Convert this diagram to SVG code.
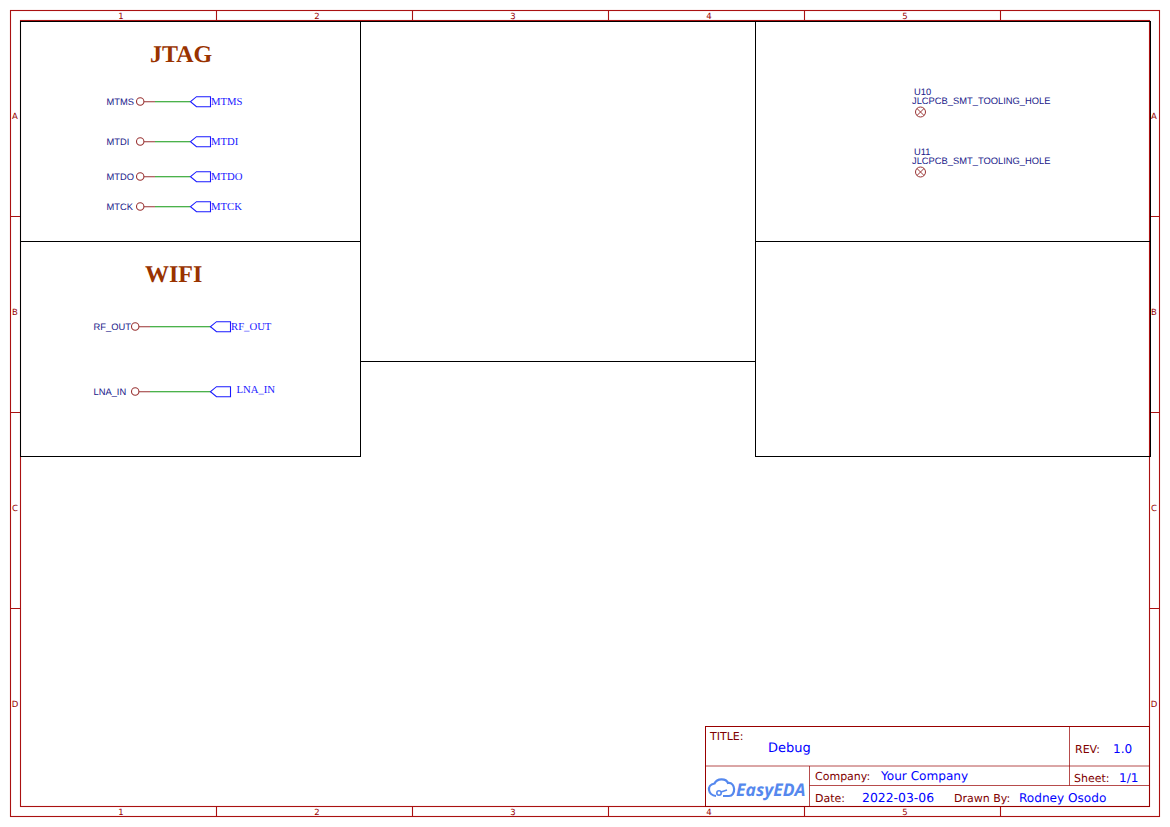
<svg xmlns="http://www.w3.org/2000/svg" width="1170" height="827" viewBox="0 0 1170 827">
<style>
text{white-space:pre;text-rendering:geometricPrecision}
.fr{fill:none;stroke:#aa1111;stroke-width:1.100}
.tb{fill:none;stroke:#990000;stroke-width:1}
.box{fill:none;stroke:#000;stroke-width:1}
.tick{font:8.500px "DejaVu Sans",sans-serif;fill:#990000;text-anchor:middle}
.lab{font:11px "DejaVu Sans",sans-serif;fill:#800000}
.val{font:12.100px "DejaVu Sans",sans-serif;fill:#0000ff}
.head{font:bold 24px "Liberation Serif",serif;fill:#993300}
.pin{font:9.350px "Liberation Sans",sans-serif;fill:#1a1a8a}
.net{font:10.700px "Liberation Serif",serif;fill:#1a1aff}
.wire{stroke:#119911;stroke-width:1.100;fill:none}
.stub{stroke:#993333;stroke-width:1.100;fill:none}
.port{stroke:#1a1aff;stroke-width:1.100;fill:#fff;transform:translate(0,.2px)}
.hole{stroke:#993333;stroke-width:1;fill:none}
</style>
<rect width="1170" height="827" fill="#fff"/>
<g id="frame">
<rect class="fr" x="10.500" y="10.500" width="1149" height="806"/>
<rect class="fr" x="20.500" y="20.500" width="1129" height="786"/>
<path class="fr" d="M216.500 10.500V20.500M412.500 10.500V20.500M608.500 10.500V20.500M804.500 10.500V20.500M1000.500 10.500V20.500M216.500 806.500V816.500M412.500 806.500V816.500M608.500 806.500V816.500M804.500 806.500V816.500M1000.500 806.500V816.500M10.500 216.500H20.500M10.500 412.500H20.500M10.500 608.500H20.500M1149.500 216.500H1159.500M1149.500 412.500H1159.500M1149.500 608.500H1159.500"/>
<text class="tick" x="121" y="19">1</text><text class="tick" x="317" y="19">2</text><text class="tick" x="513" y="19">3</text><text class="tick" x="709" y="19">4</text><text class="tick" x="905" y="19">5</text>
<text class="tick" x="121" y="815">1</text><text class="tick" x="317" y="815">2</text><text class="tick" x="513" y="815">3</text><text class="tick" x="709" y="815">4</text><text class="tick" x="905" y="815">5</text>
<text class="tick" x="15" y="119">A</text><text class="tick" x="15" y="315">B</text><text class="tick" x="15" y="511">C</text><text class="tick" x="15" y="707">D</text>
<text class="tick" x="1154" y="119">A</text><text class="tick" x="1154" y="315">B</text><text class="tick" x="1154" y="511">C</text><text class="tick" x="1154" y="707">D</text>
</g>
<g id="sheets">
<rect class="box" x="20.500" y="21.500" width="340" height="220"/>
<rect class="box" x="20.500" y="241.500" width="340" height="215"/>
<rect class="box" x="360.500" y="21.500" width="395" height="340"/>
<rect class="box" x="755.500" y="21.500" width="395" height="220"/>
<rect class="box" x="755.500" y="241.500" width="395" height="215"/>
</g>
<g id="connectors" transform="translate(0 .2)">
<path class="wire" d="M155 101.500H190M155 141.500H190M155 176.500H190M155 206.500H190M150 326.500H211M150 391.500H211"/>
<path class="stub" d="M144 101.500H155M144 141.500H155M144 176.500H155M144 206.500H155M139 326.500H150M139 391.500H150"/>
</g>
<g id="jtag">
<text class="head" x="150" y="62">JTAG</text>
<g id="mtms"><circle class="stub" cx="140.200" cy="101.500" r="3.700"/><text class="pin" x="106.500" y="105">MTMS</text><path class="port" d="M190.500 101.500L196.500 96.500H210.500V106.500H196.500Z"/><text class="net" x="211" y="105">MTMS</text></g>
<g id="mtdi"><circle class="stub" cx="140.200" cy="141.500" r="3.700"/><text class="pin" x="106.500" y="145">MTDI</text><path class="port" d="M190.500 141.500L196.500 136.500H210.500V146.500H196.500Z"/><text class="net" x="211" y="145">MTDI</text></g>
<g id="mtdo"><circle class="stub" cx="140.200" cy="176.500" r="3.700"/><text class="pin" x="106.500" y="180">MTDO</text><path class="port" d="M190.500 176.500L196.500 171.500H210.500V181.500H196.500Z"/><text class="net" x="211" y="180">MTDO</text></g>
<g id="mtck"><circle class="stub" cx="140.200" cy="206.500" r="3.700"/><text class="pin" x="106.500" y="210">MTCK</text><path class="port" d="M190.500 206.500L196.500 201.500H210.500V211.500H196.500Z"/><text class="net" x="211" y="210">MTCK</text></g>
</g>
<g id="wifi">
<text class="head" x="145" y="282">WIFI</text>
<g id="rf-out"><circle class="stub" cx="135.200" cy="326.500" r="3.700"/><text class="pin" x="93.500" y="330">RF_OUT</text><path class="port" d="M210.500 326.500L216.500 321.500H230.500V331.500H216.500Z"/><text class="net" x="231" y="330">RF_OUT</text></g>
<g id="lna-in"><circle class="stub" cx="135.200" cy="391.500" r="3.700"/><text class="pin" x="93.500" y="395">LNA_IN</text><path class="port" d="M210.500 391.500L216.500 386.500H230.500V396.500H216.500Z"/><text class="net" x="236.500" y="393">LNA_IN</text></g>
</g>
<g id="u10"><text class="pin" x="914" y="95">U10</text><text class="pin" x="912" y="104">JLCPCB_SMT_TOOLING_HOLE</text><circle class="hole" cx="920.500" cy="112" r="5"/><path class="hole" d="M917 108.500L924 115.500M924 108.500L917 115.500"/></g>
<g id="u11"><text class="pin" x="914" y="155">U11</text><text class="pin" x="912" y="164">JLCPCB_SMT_TOOLING_HOLE</text><circle class="hole" cx="920.500" cy="172" r="5"/><path class="hole" d="M917 168.500L924 175.500M924 168.500L917 175.500"/></g>
<g id="title-block">
<rect class="tb" x="705.500" y="726.500" width="444" height="80"/>
<path class="tb" opacity=".7" d="M705.500 766H1149.500M809.500 785.500H1149.500M809.500 766V806M1069.500 726.500V785.500"/>
<text class="lab" x="710" y="740">TITLE:</text><text class="val" style="font-size:13px" x="768" y="751.500">Debug</text>
<text class="lab" x="1075" y="753">REV:</text><text class="val" x="1113" y="753">1.0</text>
<text class="lab" x="815" y="780">Company:</text><text class="val" x="881" y="780">Your Company</text>
<text class="lab" x="1074" y="782">Sheet:</text><text class="val" x="1119" y="782">1/1</text>
<text class="lab" x="815" y="802">Date:</text><text class="val" style="font-size:12.400px" x="862" y="802">2022-03-06</text>
<text class="lab" x="954" y="802">Drawn By:</text><text class="val" x="1019" y="802">Rodney Osodo</text>
<g id="logo"><path d="M716 796C708 795.500 706 785 714.500 783.500C717 778 726 778 728 783C736 782 736 796 729 796H723" fill="none" stroke="#5588ee" stroke-width="2.200"/><circle cx="719" cy="793" r="2.200" fill="none" stroke="#5588ee" stroke-width="1.600"/><path d="M721 792L727 790" stroke="#5588ee" stroke-width="1.600"/><text x="736" y="795.500" style="font:italic bold 17.500px 'Open Sans',sans-serif;fill:#5588ee">EasyEDA</text></g>
</g>
</svg>
